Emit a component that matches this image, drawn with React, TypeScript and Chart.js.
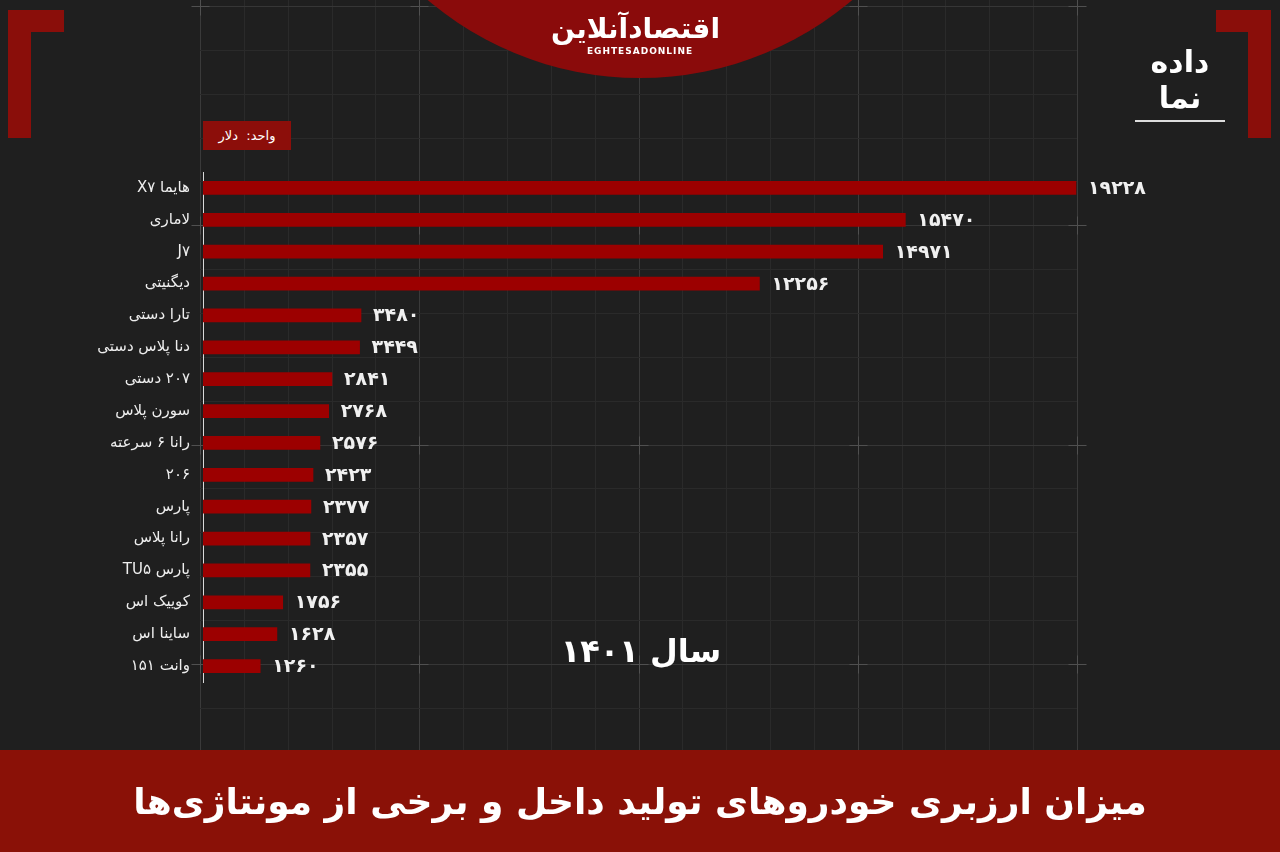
import React, { useEffect, useRef } from "react";
import { Chart, registerables } from "chart.js";

Chart.register(...registerables);

const categories = [
  "هایما X۷",
  "لاماری",
  "J۷",
  "دیگنیتی",
  "تارا دستی",
  "دنا پلاس دستی",
  "۲۰۷ دستی",
  "سورن پلاس",
  "رانا ۶ سرعته",
  "۲۰۶",
  "پارس",
  "رانا پلاس",
  "پارس TU۵",
  "کوییک اس",
  "ساینا اس",
  "وانت ۱۵۱",
];

const values = [19228, 15470, 14971, 12256, 3480, 3449, 2841, 2768, 2576, 2423, 2377, 2357, 2355, 1756, 1628, 1260];

const xMax = 20000;

const title = "میزان ارزبری خودروهای تولید داخل و برخی از مونتاژی‌ها";
const unitLabel = "واحد:  دلار";
const yearLabel = "سال ۱۴۰۱";

const faDigits = "۰۱۲۳۴۵۶۷۸۹";
const toFa = (n: number) => String(n).replace(/[0-9]/g, (d) => faDigits[Number(d)]);

const FONT = '"DejaVu Sans", "Noto Sans", sans-serif';

const backgroundPlugin = {
  id: "bgDecor",
  beforeDraw(chart: any) {
    const ctx = chart.ctx as CanvasRenderingContext2D;
    const W = chart.width;
    const H = chart.height;
    ctx.save();
    ctx.fillStyle = "#1f1f1f";
    ctx.fillRect(0, 0, W, H);
    // blueprint grid
    const gx0 = 200, gx1 = 1077, gy0 = 6, gy1 = 750;
    const step = (gx1 - gx0) / 20;
    for (let i = 0; i <= 20; i++) {
      const x = Math.round(gx0 + i * step) + 0.5;
      ctx.strokeStyle = i % 5 === 0 ? "#3a3a3a" : "#2a2a2a";
      ctx.lineWidth = 1;
      ctx.beginPath();
      ctx.moveTo(x, 0);
      ctx.lineTo(x, gy1);
      ctx.stroke();
    }
    for (let j = 0; gy0 + j * step <= gy1; j++) {
      const y = Math.round(gy0 + j * step) + 0.5;
      ctx.strokeStyle = j % 5 === 0 ? "#363636" : "#2a2a2a";
      ctx.beginPath();
      ctx.moveTo(gx0, y);
      ctx.lineTo(gx1, y);
      ctx.stroke();
    }
    // crosses on major intersections
    ctx.strokeStyle = "#505050";
    for (let i = 0; i <= 20; i += 5) {
      for (let j = 0; gy0 + j * step <= gy1; j += 5) {
        const x = Math.round(gx0 + i * step) + 0.5;
        const y = Math.round(gy0 + j * step) + 0.5;
        ctx.beginPath();
        ctx.moveTo(x - 9, y);
        ctx.lineTo(x + 9, y);
        ctx.moveTo(x, y - 9);
        ctx.lineTo(x, y + 9);
        ctx.stroke();
      }
    }
    // top red disc
    ctx.fillStyle = "#8a0b0b";
    ctx.beginPath();
    ctx.arc(640, -250, 328, 0, Math.PI * 2);
    ctx.fill();
    // corner brackets
    ctx.fillStyle = "#8a0e0a";
    ctx.fillRect(8, 10, 56, 22);
    ctx.fillRect(8, 10, 23, 128);
    ctx.fillRect(1216, 10, 55, 22);
    ctx.fillRect(1248, 10, 23, 128);
    // bottom band
    ctx.fillStyle = "#8a1107";
    ctx.fillRect(0, 750, W, H - 750);
    ctx.restore();
  },
};

const valueLabelPlugin = {
  id: "valueLabels",
  afterDatasetsDraw(chart: any) {
    const ctx = chart.ctx as CanvasRenderingContext2D;
    const meta = chart.getDatasetMeta(0);
    ctx.save();
    ctx.font = `bold 19px ${FONT}`;
    ctx.fillStyle = "#f0f0f0";
    ctx.textAlign = "left";
    ctx.textBaseline = "middle";
    meta.data.forEach((bar: any, i: number) => {
      ctx.fillText(toFa(values[i]), bar.x + 12, bar.y + 1);
    });
    ctx.restore();
  },
};

function BarChart() {
  const ref = useRef<HTMLCanvasElement | null>(null);
  useEffect(() => {
    if (!ref.current) return;
    const chart = new Chart(ref.current, {
      type: "bar",
      data: {
        labels: categories,
        datasets: [
          {
            data: values,
            backgroundColor: "#9c0000",
            borderWidth: 0,
            barThickness: 13,
          },
        ],
      },
      options: {
        indexAxis: "y",
        responsive: false,
        animation: false,
        events: [],
        layout: { padding: { top: 172, bottom: 170, left: 0, right: 169 } },
        plugins: { legend: { display: false }, tooltip: { enabled: false } },
        scales: {
          x: { display: false, min: 0, max: xMax },
          y: {
            grid: { display: false },
            border: { display: true, color: "#d8d8d8", width: 1 },
            ticks: { color: "#eeeeee", font: { family: FONT, size: 15 }, padding: 5 },
            afterFit: (scale: any) => {
              scale.width = 203;
            },
          },
        },
      },
      plugins: [backgroundPlugin, valueLabelPlugin],
    } as any);
    return () => chart.destroy();
  }, []);
  return (
    <canvas
      ref={ref}
      dir="rtl"
      width={1280}
      height={852}
      style={{ position: "absolute", left: 0, top: 0, direction: "rtl" }}
    />
  );
}

export default function App() {
  useEffect(() => {
    document.body.style.margin = "0";
  }, []);
  return (
    <div
      dir="ltr"
      style={{
        position: "relative",
        width: 1280,
        height: 852,
        overflow: "hidden",
        background: "#1f1f1f",
        fontFamily: FONT,
      }}
    >
      <BarChart />
      {/* top logo */}
      <div style={{ position: "absolute", left: 560, top: 12, width: 160, textAlign: "center", color: "#fff" }}>
        <div dir="rtl" style={{ fontSize: 28, fontWeight: "bold", lineHeight: "34px" }}>اقتصادآنلاین</div>
        <div style={{ fontSize: 9, fontWeight: "bold", letterSpacing: 1, lineHeight: "10px" }}>EGHTESADONLINE</div>
      </div>
      {/* right logo */}
      <div style={{ position: "absolute", left: 1128, top: 44, width: 104, textAlign: "center", color: "#fff" }}>
        <div dir="rtl" style={{ fontSize: 30, fontWeight: "bold", lineHeight: "36px" }}>داده</div>
        <div dir="rtl" style={{ fontSize: 30, fontWeight: "bold", lineHeight: "36px" }}>نما</div>
        <div style={{ margin: "4px auto 0", width: 90, height: 2, background: "#ddd" }} />
      </div>
      {/* unit box */}
      <div
        dir="rtl"
        style={{
          position: "absolute",
          left: 203,
          top: 121,
          width: 88,
          height: 29,
          background: "#8c0e0a",
          color: "#fff",
          fontSize: 13,
          lineHeight: "29px",
          textAlign: "center",
          whiteSpace: "pre",
        }}
      >
        {unitLabel}
      </div>
      {/* year */}
      <div
        dir="rtl"
        style={{
          position: "absolute",
          left: 520,
          top: 628,
          width: 242,
          textAlign: "center",
          color: "#fff",
          fontSize: 32,
          fontWeight: "bold",
          lineHeight: "46px",
        }}
      >
        {yearLabel}
      </div>
      {/* title */}
      <div
        dir="rtl"
        style={{
          position: "absolute",
          left: 0,
          top: 750,
          width: 1280,
          height: 102,
          display: "flex",
          alignItems: "center",
          justifyContent: "center",
          color: "#fff",
          fontSize: 36,
          fontWeight: "bold",
          whiteSpace: "nowrap",
        }}
      >
        {title}
      </div>
    </div>
  );
}
